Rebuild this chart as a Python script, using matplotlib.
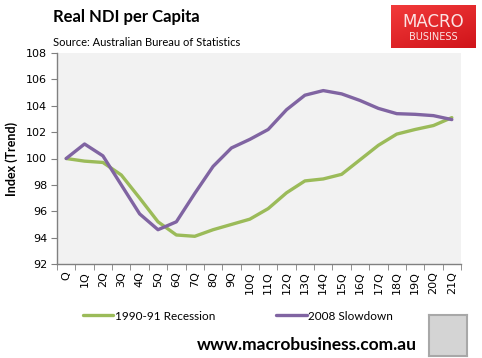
import matplotlib
matplotlib.use("Agg")
import matplotlib.pyplot as plt
import numpy as np

categories = ["Q"] + [f"{i}Q" for i in range(1, 22)]
recession_1990 = [100.0, 99.8, 99.7, 98.75, 97.0, 95.2, 94.2, 94.1, 94.6, 95.0, 95.4,
                  96.2, 97.4, 98.3, 98.45, 98.8, 99.9, 101.0, 101.85, 102.2, 102.5, 103.1]
slowdown_2008 = [100.0, 101.1, 100.2, 98.0, 95.8, 94.6, 95.2, 97.35, 99.4, 100.8, 101.45,
                 102.2, 103.7, 104.8, 105.15, 104.9, 104.4, 103.8, 103.4, 103.35, 103.25, 102.95]
yticks = [92, 94, 96, 98, 100, 102, 104, 106, 108]

W, H = 482, 358
fig = plt.figure(figsize=(W / 100, H / 100), dpi=100)
fig.patch.set_facecolor("white")

def px(x0, y0, x1, y1):
    return [x0 / W, 1 - y1 / H, (x1 - x0) / W, (y1 - y0) / H]

ax = fig.add_axes(px(57, 53, 461, 264))
ax.set_facecolor("#f2f2f2")
x = np.arange(len(categories))
green = "#9bbb59"
purple = "#8064a2"
l1, = ax.plot(x, recession_1990, color=green, lw=2.4, solid_capstyle="round", label="1990-91 Recession")
l2, = ax.plot(x, slowdown_2008, color=purple, lw=2.4, solid_capstyle="round", label="2008 Slowdown")

ax.set_xlim(-0.5, len(categories) - 0.5)
ax.set_ylim(92, 108)
ax.set_yticks(yticks)
ax.set_yticklabels([str(v) for v in yticks], fontsize=8, family="DejaVu Sans")
ax.set_xticks(x)
ax.set_xticklabels(categories, rotation=90, fontsize=8, family="DejaVu Sans")
ax.set_xticks(np.arange(-0.5, len(categories)), minor=True)
ax.tick_params(axis="x", which="major", length=0, pad=5)
ax.tick_params(axis="x", which="minor", length=4, color="#808080")
ax.tick_params(axis="y", length=4, color="#808080", pad=3)
for s in ["top", "right"]:
    ax.spines[s].set_visible(False)
for s in ["left", "bottom"]:
    ax.spines[s].set_color("#808080")
    ax.spines[s].set_linewidth(1)

ax.set_ylabel("Index (Trend)", fontsize=9, fontweight="bold", family="Lato", labelpad=6)

fig.text(53 / W, 1 - 17 / H, "Real NDI per Capita", fontsize=12, fontweight="bold",
         family="Lato", ha="left", va="center")
fig.text(53 / W, 1 - 42 / H, "Source: Australian Bureau of Statistics", fontsize=8,
         family="Lato", ha="left", va="center")

leg = fig.legend(handles=[l1, l2], loc="center", bbox_to_anchor=(238 / W, 1 - 316 / H),
                 ncol=2, frameon=False, prop={"family": "Lato", "size": 8.5},
                 handlelength=2.6, handletextpad=0.1, columnspacing=5.2)

fig.text(307 / W, 1 - 345 / H, "www.macrobusiness.com.au", fontsize=12.5, fontweight="bold",
         family="Lato", ha="center", va="center")

# logo box
logo = fig.add_axes(px(391, 5, 476, 48))
logo.set_xlim(0, 1); logo.set_ylim(0, 1); logo.axis("off")
gx, gy = np.meshgrid(np.linspace(0, 1, 60), np.linspace(0, 1, 40))
grad = 0.6 * gy + 0.4 * gx
logo.imshow(grad, extent=[0, 1, 0, 1], aspect="auto", origin="upper",
            cmap=matplotlib.colors.LinearSegmentedColormap.from_list("r", ["#f23a3a", "#d0141a"]))
logo.text(0.5, 0.60, "MACRO", color="#fbe4e4", fontsize=12, ha="center", va="center",
          family="DejaVu Sans")
logo.text(0.5, 0.25, "BUSINESS", color="#fbe4e4", fontsize=7, ha="center", va="center",
          family="DejaVu Sans")

# wolf placeholder
wolf = fig.add_axes(px(429, 315, 467, 356))
wolf.set_xticks([]); wolf.set_yticks([])
wolf.set_facecolor("#d4d4d4")
for s in wolf.spines.values():
    s.set_color("#a8a8a8")
    s.set_linewidth(1.5)

fig.savefig("out.png", dpi=100, facecolor="white")
